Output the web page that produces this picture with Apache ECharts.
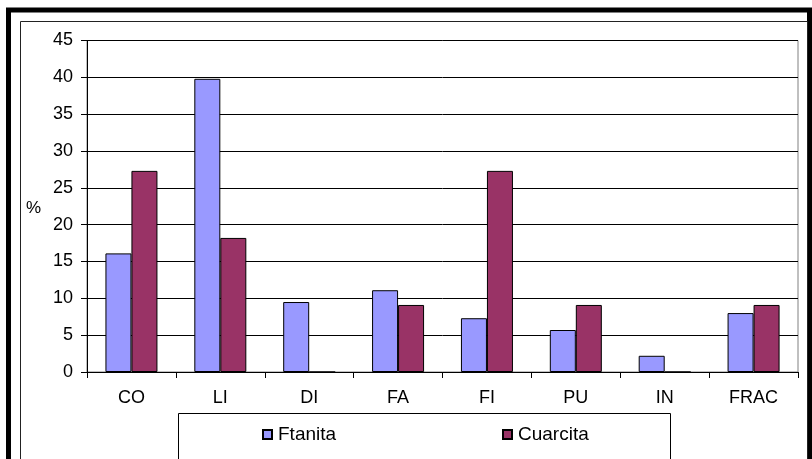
<!DOCTYPE html>
<html>
<head>
<meta charset="utf-8">
<script src="https://cdn.jsdelivr.net/npm/echarts@6/dist/echarts.min.js"></script>
<style>
html,body{margin:0;padding:0;background:#fff;}
#c{width:812px;height:459px;}
</style>
</head>
<body>
<div id="c"></div>
<script>
var categories = ['CO', 'LI', 'DI', 'FA', 'FI', 'PU', 'IN', 'FRAC'];
var ftanita = [16.1, 39.8, 9.5, 11.1, 7.3, 5.7, 2.2, 8.0];
var cuarcita = [27.3, 18.2, 0, 9.1, 27.3, 9.1, 0, 9.1];
var yTicks = {min: 0, max: 45, interval: 5};

var chart = echarts.init(document.getElementById('c'), null, {renderer: 'canvas'});
var font = 'Liberation Sans, Arial, sans-serif';
chart.setOption({
  backgroundColor: '#fff',
  animation: false,
  grid: {left: 87, right: 14, top: 40.5, bottom: 87, show: true, borderColor: '#808080', borderWidth: 1, containLabel: false},
  xAxis: {
    type: 'category',
    data: categories,
    boundaryGap: true,
    axisLine: {lineStyle: {color: '#000', width: 1}},
    axisTick: {show: true, length: 6, lineStyle: {color: '#000'}},
    axisLabel: {color: '#000', fontFamily: font, fontSize: 18, margin: 17}
  },
  yAxis: {
    type: 'value',
    min: yTicks.min, max: yTicks.max, interval: yTicks.interval,
    axisLine: {show: true, lineStyle: {color: '#000', width: 1}},
    axisTick: {show: true, length: 6, lineStyle: {color: '#000'}},
    axisLabel: {color: '#000', fontFamily: font, fontSize: 18, margin: 14},
    splitLine: {show: true, lineStyle: {color: '#000', width: 1}}
  },
  legend: [
    {data: ['Ftanita'], left: 257, top: 420, itemWidth: 9, itemHeight: 9, itemGap: 0, icon: 'rect',
     textStyle: {fontFamily: font, fontSize: 19, color: '#000', padding: [0,0,0,1]}},
    {data: ['Cuarcita'], left: 497, top: 420, itemWidth: 9, itemHeight: 9, itemGap: 0, icon: 'rect',
     textStyle: {fontFamily: font, fontSize: 19, color: '#000', padding: [0,0,0,1]}}
  ],
  series: [
    {name: 'Ftanita', type: 'bar', data: ftanita, barWidth: 26, barGap: '0%',
     itemStyle: {color: '#9999FF', borderColor: '#000', borderWidth: 1}},
    {name: 'Cuarcita', type: 'bar', data: cuarcita, barWidth: 26, barGap: '0%',
     itemStyle: {color: '#993366', borderColor: '#000', borderWidth: 1}}
  ],
  graphic: [
    {type: 'rect', shape: {x: 8.5, y: 10, width: 801, height: 500}, style: {fill: 'none', stroke: '#000', lineWidth: 5}, silent: true},
    {type: 'rect', shape: {x: 20.5, y: 21.5, width: 787, height: 500}, style: {fill: 'none', stroke: '#222', lineWidth: 1}, silent: true},
    {type: 'rect', shape: {x: 178.5, y: 413.5, width: 492, height: 60}, style: {fill: 'none', stroke: '#000', lineWidth: 1}, silent: true},
    {type: 'text', x: 26, y: 200, style: {text: '%', font: '17px ' + font, fill: '#000'}, silent: true}
  ]
});
</script>
</body>
</html>
